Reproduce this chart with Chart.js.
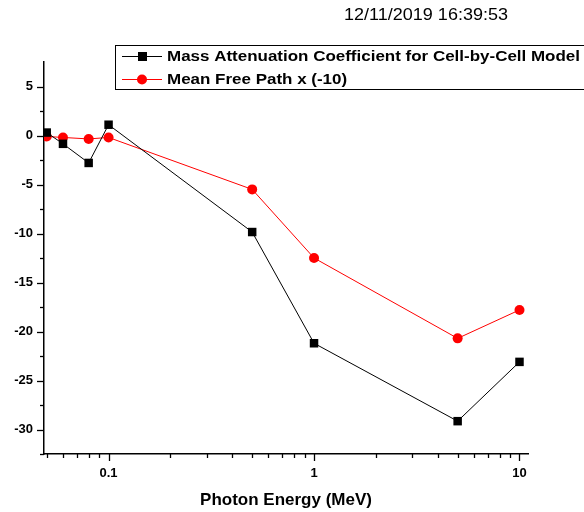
<!DOCTYPE html>
<html>
<head>
<meta charset="utf-8">
<script src="https://cdn.jsdelivr.net/npm/chart.js@4.4.1/dist/chart.umd.min.js"></script>
<style>
  html, body { margin: 0; padding: 0; background: #fff; }
  #wrap { width: 584px; height: 512px; position: relative; }
</style>
</head>
<body>
<div id="wrap"><canvas id="chart"></canvas></div>
<script>
// photon energies (MeV)
const energies = [0.05, 0.06, 0.08, 0.1, 0.5, 1, 5, 10];
// series values
const massAtten = [0.3, -0.85, -2.8, 1.1, -9.85, -21.2, -29.15, -23.1];
const meanFree = [-0.1, -0.2, -0.35, -0.2, -5.5, -12.5, -20.7, -17.8];
const seriesNames = ["Mass Attenuation Coefficient for Cell-by-Cell Model", "Mean Free Path x (-10)"];
const xLabelTicks = [0.1, 1, 10];
const yLabelTicks = [-30, -25, -20, -15, -10, -5, 0, 5];
const stampText = "12/11/2019 16:39:53";
const xTitle = "Photon Energy (MeV)";

const FONT = "'Liberation Sans', Arial, sans-serif";

// minor ticks: 1..9 of each decade, minor halfway between labelled y values
function xAllTicks(min, max) {
  let out = [];
  [0.01, 0.1, 1, 10].forEach(d => {
    for (let k = 1; k <= 9; k++) {
      let v = +(d * k).toPrecision(3);
      if (v >= min && v <= max) out.push(v);
    }
  });
  return out;
}
function yAllTicks() {
  let out = [];
  yLabelTicks.forEach(v => { out.push(v); out.push(v - 2.5); });
  return out.sort((a, b) => a - b);
}

// text stretched horizontally by sx
function wideText(ctx, txt, x, y, sx) {
  ctx.save();
  ctx.translate(x, y);
  ctx.scale(sx, 1);
  ctx.fillText(txt, 0, 0);
  ctx.restore();
}

const tickPlugin = {
  id: "ticksAndText",
  afterDraw(chart) {
    const ctx = chart.ctx;
    const xs = chart.scales.x, ys = chart.scales.y;
    const area = chart.chartArea;
    ctx.save();
    ctx.strokeStyle = "#000";
    ctx.lineWidth = 1.3;
    xAllTicks(xs.min, xs.max).forEach(v => {
      const px = Math.round(xs.getPixelForValue(v)) + 0.5;
      const len = xLabelTicks.includes(v) ? 7 : 4;
      ctx.beginPath();
      ctx.moveTo(px, area.bottom);
      ctx.lineTo(px, area.bottom + len);
      ctx.stroke();
    });
    yAllTicks().forEach(v => {
      const py = Math.round(ys.getPixelForValue(v)) + 0.5;
      const len = yLabelTicks.includes(v) ? 7 : 4;
      ctx.beginPath();
      ctx.moveTo(area.left, py);
      ctx.lineTo(area.left - len, py);
      ctx.stroke();
    });

    // time stamp
    ctx.fillStyle = "#000";
    ctx.font = "17px " + FONT;
    ctx.textBaseline = "middle";
    ctx.textAlign = "left";
    wideText(ctx, stampText, 344, 15, 164 / ctx.measureText(stampText).width);

    // legend box
    ctx.lineWidth = 1;
    ctx.strokeRect(115.5, 45.5, 480, 44);
    ctx.font = "bold 15px " + FONT;
    const sx = 413 / ctx.measureText(seriesNames[0]).width;
    chart.data.datasets.forEach((ds, i) => {
      const cy = 56 + i * 23;
      ctx.strokeStyle = ds.borderColor;
      ctx.lineWidth = 1;
      ctx.beginPath();
      ctx.moveTo(122, cy + 0.5);
      ctx.lineTo(162, cy + 0.5);
      ctx.stroke();
      ctx.fillStyle = ds.backgroundColor;
      if (ds.pointStyle === "rect") {
        ctx.fillRect(138, cy - 4, 9, 9);
      } else {
        ctx.beginPath();
        ctx.arc(142, cy + 0.5, 5, 0, Math.PI * 2);
        ctx.fill();
      }
      ctx.fillStyle = "#000";
      wideText(ctx, ds.label, 167, cy + 1, sx);
    });
    ctx.restore();
  }
};

new Chart(document.getElementById("chart"), {
  type: "line",
  data: {
    labels: energies,
    datasets: [
      {
        label: seriesNames[0],
        data: energies.map((e, i) => ({ x: e, y: massAtten[i] })),
        borderColor: "#000000",
        backgroundColor: "#000000",
        borderWidth: 1,
        pointStyle: "rect",
        pointRadius: 6,
        pointBorderWidth: 0,
        tension: 0
      },
      {
        label: seriesNames[1],
        data: energies.map((e, i) => ({ x: e, y: meanFree[i] })),
        borderColor: "#ff0000",
        backgroundColor: "#ff0000",
        borderWidth: 1,
        pointStyle: "circle",
        pointRadius: 5,
        pointBorderWidth: 0,
        tension: 0
      }
    ]
  },
  options: {
    responsive: true,
    maintainAspectRatio: false,
    animation: false,
    events: [],
    layout: { padding: { top: 62, right: 56, left: 0, bottom: 0 } },
    plugins: {
      legend: { display: false },
      tooltip: { enabled: false }
    },
    scales: {
      x: {
        type: "logarithmic",
        min: 0.0485,
        max: 11,
        afterBuildTicks(scale) {
          scale.ticks = xLabelTicks.map(v => ({ value: v, major: true }));
        },
        afterFit(scale) { scale.height = 58; },
        grid: { display: false },
        border: { display: true, color: "#000", width: 1.5 },
        ticks: {
          autoSkip: false,
          maxRotation: 0,
          padding: 4,
          color: "#000",
          font: { family: FONT, size: 13, weight: "bold" },
          callback: v => String(v)
        },
        title: {
          display: true,
          text: xTitle,
          color: "#000",
          font: { family: FONT, size: 17, weight: "bold" },
          padding: { top: 0, bottom: 1 }
        }
      },
      y: {
        type: "linear",
        min: -32.5,
        max: 7.5,
        afterBuildTicks(scale) {
          scale.ticks = yLabelTicks.map(v => ({ value: v }));
        },
        afterFit(scale) { scale.width = 44; },
        grid: { display: false },
        border: { display: true, color: "#000", width: 1.5 },
        ticks: {
          autoSkip: false,
          padding: 3,
          color: "#000",
          font: { family: FONT, size: 13, weight: "bold" },
          callback: v => String(v)
        }
      }
    }
  },
  plugins: [tickPlugin]
});
</script>
</body>
</html>
